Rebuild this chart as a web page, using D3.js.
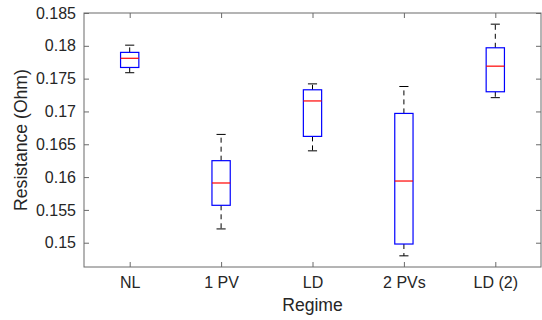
<!DOCTYPE html>
<html>
<head>
<meta charset="utf-8">
<script src="https://cdn.jsdelivr.net/npm/d3@7"></script>
<style>
  body { margin: 0; background: #fff; }
  svg text { font-family: "Liberation Sans", Arial, sans-serif; fill: #262626; }
</style>
</head>
<body>
<div id="chart"></div>
<script>
const categories = ['NL', '1 PV', 'LD', '2 PVs', 'LD (2)'];
// five-number summaries
const whiskerLow = [0.1759, 0.1521, 0.1640, 0.1480, 0.1721];
const quartileLow = [0.1767, 0.1557, 0.1662, 0.1498, 0.1730];
const medians = [0.1781, 0.1591, 0.1716, 0.1594, 0.1769];
const quartileHigh = [0.1790, 0.1625, 0.1733, 0.1697, 0.1797];
const whiskerHigh = [0.1801, 0.1665, 0.1742, 0.1738, 0.1833];
const yTicks = [0.15, 0.155, 0.16, 0.165, 0.17, 0.175, 0.18, 0.185];

const width = 542;
const height = 320;
const margin = { top: 13, right: 1, bottom: 53, left: 84 };
const innerWidth = width - margin.left - margin.right;
const innerHeight = height - margin.top - margin.bottom;

const boxes = categories.map((name, i) => ({
  name,
  pos: i + 1,
  lo: whiskerLow[i],
  q1: quartileLow[i],
  med: medians[i],
  q3: quartileHigh[i],
  hi: whiskerHigh[i]
}));

const svg = d3.select('#chart').append('svg')
  .attr('width', width)
  .attr('height', height);

const plot = svg.append('g').attr('transform', `translate(${margin.left},${margin.top})`);

const x = d3.scaleLinear().domain([0.5, categories.length + 0.5]).range([0, innerWidth]);
const y = d3.scaleLinear().domain([0.1463, 0.185]).range([innerHeight, 0]);

const boxHalf = x(1.1) - x(1);
const capHalf = boxHalf / 2;
const axisColor = '#6a6a6a';

function styleAxis(g) {
  g.select('.domain').remove();
  g.selectAll('.tick line').attr('stroke', axisColor);
  g.selectAll('.tick text').style('font-size', '16px').attr('fill', '#262626');
}

// mirror axes only carry tick marks
function dropLabels(g) {
  g.selectAll('.tick text').remove();
}

// bottom and top axes
plot.append('g')
  .attr('transform', `translate(0,${innerHeight})`)
  .call(d3.axisBottom(x).tickValues(boxes.map((b) => b.pos)).tickFormat((d) => categories[d - 1]).tickSizeInner(-5).tickSizeOuter(0).tickPadding(10))
  .call(styleAxis);

plot.append('g')
  .call(d3.axisTop(x).tickValues(boxes.map((b) => b.pos)).tickSizeInner(-5).tickSizeOuter(0))
  .call(styleAxis)
  .call(dropLabels);

// left and right axes
plot.append('g')
  .call(d3.axisLeft(y).tickValues(yTicks).tickFormat((d) => d3.format('')(+d.toFixed(3))).tickSizeInner(-5).tickSizeOuter(0).tickPadding(8))
  .call(styleAxis);

plot.append('g')
  .attr('transform', `translate(${innerWidth},0)`)
  .call(d3.axisRight(y).tickValues(yTicks).tickSizeInner(-5).tickSizeOuter(0))
  .call(styleAxis)
  .call(dropLabels);

plot.append('rect')
  .attr('width', innerWidth)
  .attr('height', innerHeight)
  .attr('fill', 'none')
  .attr('stroke', axisColor)
  .attr('stroke-width', 1);

const group = plot.selectAll('.box').data(boxes).join('g').attr('class', 'box');

// whiskers
group.append('line')
  .attr('x1', (d) => x(d.pos)).attr('x2', (d) => x(d.pos))
  .attr('y1', (d) => y(d.q3)).attr('y2', (d) => y(d.hi))
  .attr('stroke', '#000').attr('stroke-dasharray', '5,4');
group.append('line')
  .attr('x1', (d) => x(d.pos)).attr('x2', (d) => x(d.pos))
  .attr('y1', (d) => y(d.q1)).attr('y2', (d) => y(d.lo))
  .attr('stroke', '#000').attr('stroke-dasharray', '5,4');

// caps
group.append('line')
  .attr('x1', (d) => x(d.pos) - capHalf).attr('x2', (d) => x(d.pos) + capHalf)
  .attr('y1', (d) => y(d.hi)).attr('y2', (d) => y(d.hi))
  .attr('stroke', '#000');
group.append('line')
  .attr('x1', (d) => x(d.pos) - capHalf).attr('x2', (d) => x(d.pos) + capHalf)
  .attr('y1', (d) => y(d.lo)).attr('y2', (d) => y(d.lo))
  .attr('stroke', '#000');

// boxes
group.append('rect')
  .attr('x', (d) => x(d.pos) - boxHalf)
  .attr('width', boxHalf * 2)
  .attr('y', (d) => y(d.q3))
  .attr('height', (d) => y(d.q1) - y(d.q3))
  .attr('fill', 'none')
  .attr('stroke', '#0000ff')
  .attr('stroke-width', 1.2);

// medians
group.append('line')
  .attr('x1', (d) => x(d.pos) - boxHalf).attr('x2', (d) => x(d.pos) + boxHalf)
  .attr('y1', (d) => y(d.med)).attr('y2', (d) => y(d.med))
  .attr('stroke', '#ff0000')
  .attr('stroke-width', 1.2);

// axis titles
svg.append('text')
  .attr('x', margin.left + innerWidth / 2)
  .attr('y', 311)
  .attr('text-anchor', 'middle')
  .style('font-size', '17.6px')
  .text('Regime');

svg.append('text')
  .attr('transform', `translate(27,${margin.top + innerHeight / 2}) rotate(-90)`)
  .attr('text-anchor', 'middle')
  .style('font-size', '17.6px')
  .text('Resistance (Ohm)');
</script>
</body>
</html>
